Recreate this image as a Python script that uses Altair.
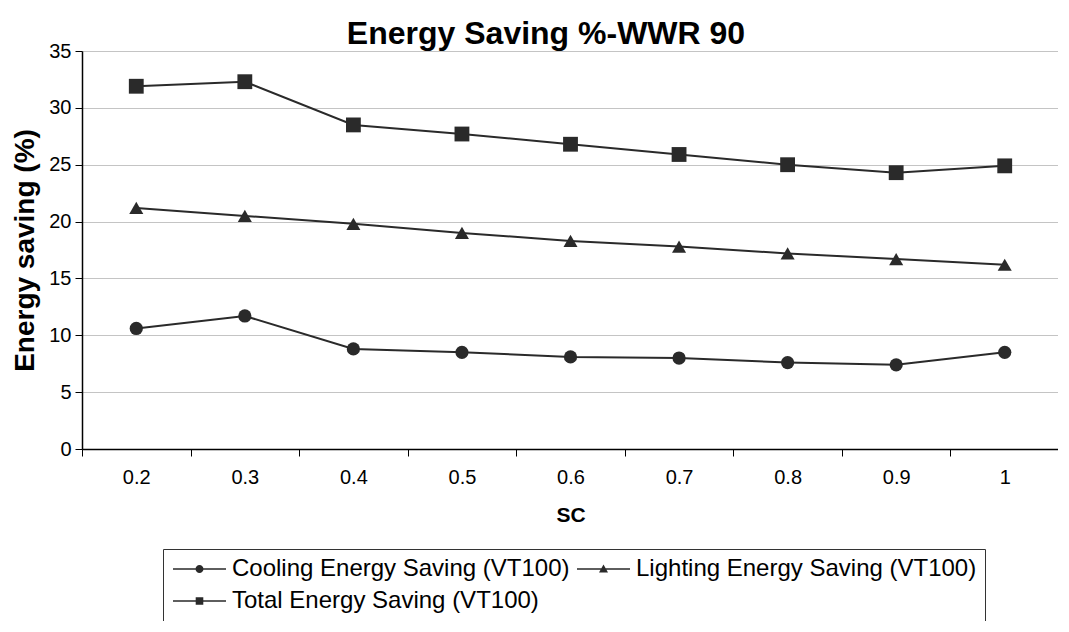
import altair as alt
import pandas as pd

# ---- data ----
sc_values = ["0.2", "0.3", "0.4", "0.5", "0.6", "0.7", "0.8", "0.9", "1"]
series_names = [
    "Cooling Energy Saving (VT100)",
    "Lighting Energy Saving (VT100)",
    "Total Energy Saving (VT100)",
]
cooling = [10.6, 11.7, 8.8, 8.5, 8.1, 8.0, 7.6, 7.4, 8.5]
lighting = [21.2, 20.5, 19.8, 19.0, 18.3, 17.8, 17.2, 16.7, 16.2]
total = [31.9, 32.3, 28.5, 27.7, 26.8, 25.9, 25.0, 24.3, 24.9]
y_ticks = [0, 5, 10, 15, 20, 25, 30, 35]

rows = []
for name, vals in zip(series_names, [cooling, lighting, total]):
    for s, v in zip(sc_values, vals):
        rows.append({"SC": s, "series": name, "value": v})
df = pd.DataFrame(rows)

FONT = "Liberation Sans"
INK = "#2a2a2a"

# legend symbols (unit = 10px for symbolSize 400): a thin bar with the marker in the middle
bar = "M-1,-0.075L4.3,-0.075L4.3,0.075L-1,0.075Z"
leg_circle = bar + "M1.25,0A0.4,0.4,0,1,1,2.05,0A0.4,0.4,0,1,1,1.25,0Z"
leg_tri = bar + "M1.2,0.35L1.65,-0.45L2.1,0.35Z"
leg_square = bar + "M1.27,-0.38L2.03,-0.38L2.03,0.38L1.27,0.38Z"

x_enc = alt.X(
    "SC:N",
    sort=sc_values,
    bandPosition=0.5,
    scale=alt.Scale(type="band", range=[0, 977], paddingInner=0, paddingOuter=0),
    axis=alt.Axis(
        title="SC",
        tickBand="extent",
        grid=False,
        labelAngle=0,
        labelFont=FONT,
        labelFontSize=20,
        labelColor="black",
        labelPadding=11,
        tickSize=7,
        tickColor="black",
        domainColor="black",
        domainWidth=1.5,
        titleFont=FONT,
        titleFontSize=21,
        titleFontWeight="bold",
        titleColor="black",
        titlePadding=17,
    ),
)
y_enc = alt.Y(
    "value:Q",
    scale=alt.Scale(domain=[0, 35], nice=False),
    axis=alt.Axis(
        title="Energy saving (%)",
        values=y_ticks,
        grid=True,
        gridColor="#c4c4c4",
        gridWidth=1,
        labelFont=FONT,
        labelFontSize=20,
        labelColor="black",
        labelPadding=4,
        tickSize=7,
        tickColor="black",
        domainColor="black",
        domainWidth=1.5,
        titleFont=FONT,
        titleFontSize=28,
        titleFontWeight="bold",
        titleColor="black",
        titlePadding=9,
    ),
)

base = alt.Chart(df).encode(x=x_enc, y=y_enc)

lines = base.mark_line(color=INK, strokeWidth=2).encode(detail="series:N")

points = base.mark_point(filled=True, color=INK, opacity=1).encode(
    shape=alt.Shape(
        "series:N",
        scale=alt.Scale(domain=series_names, range=["circle", "triangle-up", "square"]),
        legend=None,
    ),
    size=alt.Size(
        "series:N",
        scale=alt.Scale(domain=series_names, range=[175, 220, 165]),
        legend=None,
    ),
)

legend_layer = (
    base.mark_point(filled=True, color=INK, opacity=1)
    .encode(
        shape=alt.Shape(
            "series:N",
            scale=alt.Scale(domain=series_names, range=[leg_circle, leg_tri, leg_square]),
            legend=alt.Legend(
                title=None,
                orient="none",
                legendX=81,
                legendY=498,
                columns=2,
                direction="horizontal",
                symbolSize=400,
                symbolStrokeWidth=0,
                symbolFillColor=INK,
                symbolOpacity=1,
                labelFont=FONT,
                labelFontSize=24,
                labelColor="black",
                labelOffset=37,
                labelLimit=0,
                columnPadding=5,
                rowPadding=8,
                padding=8,
                strokeColor="#333333",
                fillColor="white",
            ),
        )
    )
    .transform_filter("datum.value < -1000")
)

chart = (
    alt.layer(lines, points, legend_layer)
    .resolve_scale(shape="independent", size="independent")
    .properties(
        width=976,
        height=398,
        autosize=alt.AutoSizeParams(type="none"),
        padding={"left": 74, "top": 43, "right": 0, "bottom": 172},
        title=alt.Title(
            "Energy Saving %-WWR 90",
            font=FONT,
            fontSize=32,
            fontWeight="bold",
            color="black",
            anchor="middle",
            offset=10,
            dx=-24,
            dy=20,
        ),
    )
    .configure_view(stroke=None)
    .configure(background="white")
)

chart.save("out.html", embed_options={"renderer": "svg", "actions": False})
